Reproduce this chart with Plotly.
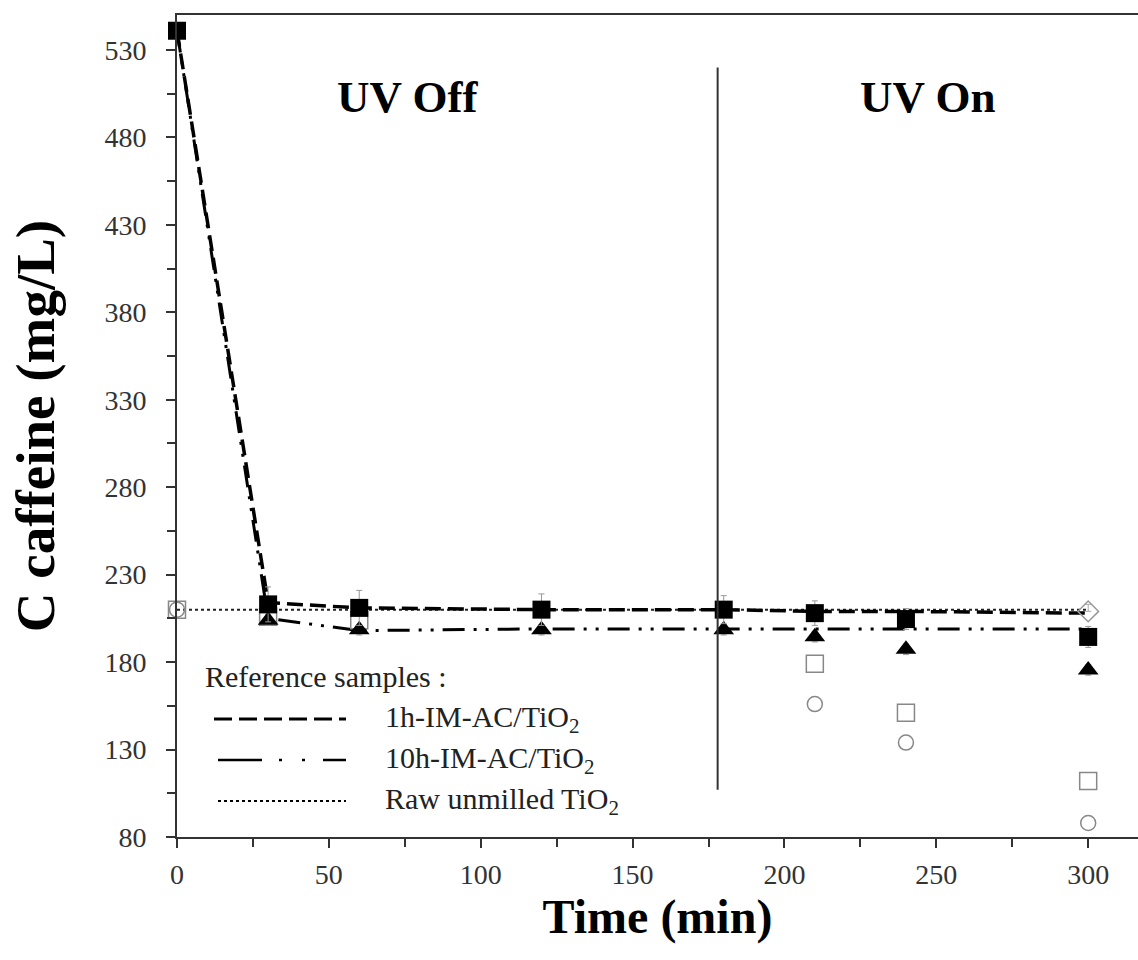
import plotly.graph_objects as go

# ---------------- data ----------------
time_min = [0, 30, 60, 120, 180, 210, 240, 300]
ref_1h = [541, 214, 211, 210, 210, 209, 209, 208]
ref_10h = [541, 205, 198, 199, 199, 199, 199, 199]
ref_raw = [210, 210, 210, 210, 210, 210, 210, 210]

sq_time = [0, 30, 60, 120, 180, 210, 240, 300]
sq_vals = [541, 213, 211, 210, 210, 208, 204.6, 194.4]
sq_err = [0, 10, 10, 9, 8, 7, 6, 6]

tri_time = [30, 60, 120, 180, 210, 240, 300]
tri_vals = [204, 198.5, 198.5, 198.5, 194.5, 187.3, 175.5]
tri_err = [3, 3, 3, 3, 3, 3, 3]

osq_time = [0, 30, 60, 210, 240, 300]
osq_vals = [210, 206, 204, 179, 151, 112]

ocirc_time = [0, 210, 240, 300]
ocirc_vals = [210, 156, 134, 88]

odia_time = [300]
odia_vals = [209]

y_ticks = [80, 130, 180, 230, 280, 330, 380, 430, 480, 530]
x_ticks = [0, 50, 100, 150, 200, 250, 300]

legend_labels = ["1h-IM-AC/TiO<sub>2</sub>", "10h-IM-AC/TiO<sub>2</sub>", "Raw unmilled TiO<sub>2</sub>"]
legend_dashes = ["18px,7px", "44px,17px,3px,20px,3px,18px", "3px,3px"]
legend_widths = [3, 2.5, 2]
legend_starts = [214, 218, 218]

FONT = "Liberation Serif"

fig = go.Figure()

# reference sample lines
fig.add_trace(go.Scatter(x=time_min, y=ref_raw, mode="lines",
                         line=dict(color="#222", width=2, dash="3px,3px"),
                         showlegend=False, cliponaxis=False))
fig.add_trace(go.Scatter(x=time_min, y=ref_10h, mode="lines",
                         line=dict(color="black", width=3, dash="22px,9px,3px,9px,3px,9px"),
                         showlegend=False, cliponaxis=False))
fig.add_trace(go.Scatter(x=time_min, y=ref_1h, mode="lines",
                         line=dict(color="black", width=3.5, dash="16px,7px"),
                         showlegend=False, cliponaxis=False))

# open markers
fig.add_trace(go.Scatter(x=odia_time, y=odia_vals, mode="markers",
                         marker=dict(symbol="diamond-open", size=16, color="#999", line=dict(width=1.5)),
                         error_y=dict(type="data", array=[4], arrayminus=[0], color="#aaa", thickness=1, width=3),
                         showlegend=False, cliponaxis=False))
fig.add_trace(go.Scatter(x=osq_time, y=osq_vals, mode="markers",
                         marker=dict(symbol="square-open", size=17, color="#888", line=dict(width=1.5)),
                         showlegend=False, cliponaxis=False))
fig.add_trace(go.Scatter(x=ocirc_time, y=ocirc_vals, mode="markers",
                         marker=dict(symbol="circle-open", size=15, color="#888", line=dict(width=1.5)),
                         showlegend=False, cliponaxis=False))

# filled markers
fig.add_trace(go.Scatter(x=tri_time, y=tri_vals, mode="markers",
                         marker=dict(symbol="triangle-up", size=18, color="black"),
                         error_y=dict(type="data", array=tri_err, color="#999", thickness=1, width=3),
                         showlegend=False, cliponaxis=False))
fig.add_trace(go.Scatter(x=sq_time, y=sq_vals, mode="markers",
                         marker=dict(symbol="square", size=18, color="black"),
                         error_y=dict(type="data", array=sq_err, color="#999", thickness=1, width=3),
                         showlegend=False, cliponaxis=False))

# UV on/off separator
fig.add_shape(type="line", x0=178, x1=178, y0=107, y1=520, xref="x", yref="y",
              line=dict(color="#333", width=2))

fig.add_annotation(x=76, y=503, xref="x", yref="y", text="<b>UV Off</b>", showarrow=False,
                   font=dict(family=FONT, size=45, color="black"))
fig.add_annotation(x=247, y=503, xref="x", yref="y", text="<b>UV On</b>", showarrow=False,
                   font=dict(family=FONT, size=45, color="black"))

# legend box (manual)
def px_x(p):
    return (p - 177) / 961.0

def px_y(p):
    return (837 - p) / 822.0

fig.add_annotation(x=px_x(203), y=px_y(676), xref="paper", yref="paper", xanchor="left",
                   yanchor="middle", text="Reference samples :", showarrow=False,
                   font=dict(family=FONT, size=30, color="#222"))
rows = [719, 760, 801]
for lab, dsh, w, x0, ry in zip(legend_labels, legend_dashes, legend_widths, legend_starts, rows):
    fig.add_shape(type="line", xref="paper", yref="paper", x0=px_x(x0), x1=px_x(346),
                  y0=px_y(ry), y1=px_y(ry), line=dict(color="black", width=w, dash=dsh))
    fig.add_annotation(x=px_x(383), y=px_y(ry), xref="paper", yref="paper", xanchor="left",
                       yanchor="middle", text=lab, showarrow=False,
                       font=dict(family=FONT, size=30, color="#222"))

fig.update_layout(
    width=1138, height=960,
    margin=dict(l=177, r=0, t=15, b=123),
    paper_bgcolor="white", plot_bgcolor="white",
    font=dict(family=FONT, color="#222"),
    showlegend=False,
)
fig.update_xaxes(
    range=[0, 316.4], tickvals=x_ticks, ticks="outside", ticklen=9, tickwidth=2,
    tickcolor="#333", showline=True, linecolor="#333", linewidth=2, mirror=True,
    showgrid=False, zeroline=False, ticklabelstandoff=2,
    tickfont=dict(family=FONT, size=28, color="#333"),
    minor=dict(ticks="outside", dtick=25, tick0=0, ticklen=8, tickwidth=2, tickcolor="#333"),
    title=dict(text="<b>Time (min)</b>", font=dict(family=FONT, size=48, color="black"), standoff=0),
)
fig.update_yaxes(
    range=[80, 550], tickvals=y_ticks, ticks="outside", ticklen=9, tickwidth=2,
    tickcolor="#333", showline=True, linecolor="#333", linewidth=2, mirror=False,
    showgrid=False, zeroline=False, ticklabelstandoff=14,
    tickfont=dict(family=FONT, size=28, color="#333"),
    minor=dict(ticks="outside", dtick=25, tick0=80, ticklen=8, tickwidth=2, tickcolor="#333"),
    title=dict(text="<b>C caffeine (mg/L)</b>", font=dict(family=FONT, size=55, color="black"), standoff=32),
)

fig.write_html("out.html")
